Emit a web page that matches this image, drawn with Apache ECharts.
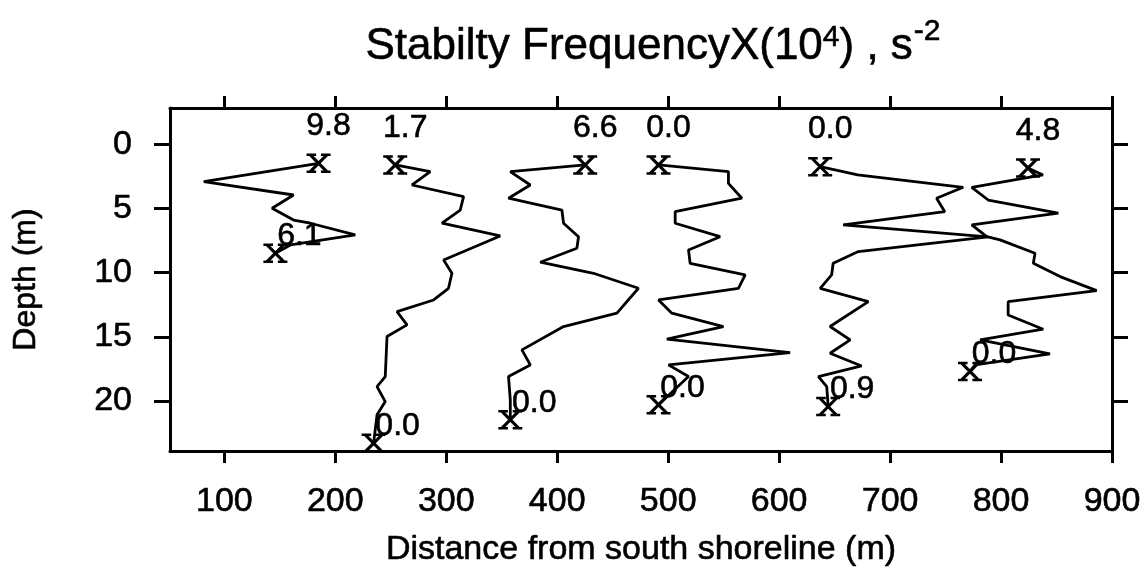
<!DOCTYPE html>
<html><head><meta charset="utf-8">
<script src="https://cdn.jsdelivr.net/npm/echarts@6/dist/echarts.min.js"></script>
<style>html,body{margin:0;padding:0;background:#fff}#c{width:1144px;height:581px}</style>
</head><body><div id="c"></div>
<script>
// ---- data ----
const xTicks = [100, 200, 300, 400, 500, 600, 700, 800, 900];
const yTicks = [0, 5, 10, 15, 20];

const p1X = [184.9, 81.4, 162.4, 143.0, 162.4, 177.5, 218.0, 159.5, 146.0];
const p1D = [1.48, 2.91, 3.95, 4.98, 5.90, 6.15, 7.06, 7.84, 8.49];

const p2X = [254.0, 285.6, 269.1, 315.6, 312.6, 296.1, 348.6, 297.6, 305.1, 302.0, 288.6, 255.6, 264.6, 246.6, 245.0, 237.6, 245.0, 237.6, 234.5];
const p2D = [1.61, 2.13, 3.17, 4.08, 5.12, 6.15, 7.14, 9.01, 10.05, 11.22, 12.13, 13.04, 14.07, 14.98, 18.10, 18.88, 20.05, 21.08, 23.29];

const p3X = [425.2, 357.7, 375.7, 356.1, 404.2, 405.7, 419.2, 417.7, 384.7, 432.7, 473.2, 453.8, 405.7, 368.2, 375.7, 356.1, 357.7, 357.7];
const p3D = [1.61, 2.13, 3.17, 4.20, 5.12, 6.15, 7.20, 8.10, 9.19, 10.05, 11.22, 13.16, 14.20, 16.02, 17.19, 18.10, 19.91, 21.47];

const p4X = [491.3, 554.3, 554.3, 566.4, 506.3, 506.3, 546.8, 518.3, 519.8, 569.4, 563.3, 491.3, 503.3, 549.8, 498.8, 609.9, 500.3, 518.3, 491.3];
const p4D = [1.61, 2.13, 3.04, 4.20, 5.25, 6.15, 7.20, 8.23, 9.27, 10.18, 11.22, 12.13, 13.16, 14.20, 15.19, 16.23, 17.19, 18.10, 20.30];

const p5X = [637.0, 670.8, 765.9, 741.9, 749.3, 657.7, 788.3, 671.4, 648.7, 647.3, 637.0, 680.4, 645.9, 664.0, 645.9, 674.3, 635.4, 642.9, 644.2];
const p5D = [1.74, 2.39, 3.35, 4.20, 5.25, 6.28, 7.22, 8.36, 9.27, 10.18, 11.22, 12.26, 14.20, 15.24, 16.28, 17.27, 18.10, 18.88, 20.44];

const p6X = [824.3, 837.8, 773.6, 788.4, 851.6, 773.6, 787.1, 799.1, 830.6, 829.1, 853.2, 886.2, 806.4, 806.4, 838.0, 781.1, 844.1, 776.6, 772.0];
const p6D = [1.85, 2.39, 3.35, 4.34, 5.37, 6.28, 7.20, 7.45, 8.49, 9.27, 10.31, 11.40, 12.26, 13.30, 14.41, 15.24, 16.33, 17.19, 17.71];

const topLabels = ['9.8', '1.7', '6.6', '0.0', '0.0', '4.8'];
const bottomLabels = ['6.1', '0.0', '0.0', '0.0', '0.9', '0.0'];

// ---- build ----
const profiles = [[p1X, p1D], [p2X, p2D], [p3X, p3D], [p4X, p4D], [p5X, p5D], [p6X, p6D]];
const FONT = 'Liberation Sans';
const xSym = 'path://M0,0H8M12,0H20M0,16H8M12,16H20M3,0L17,16M17,0L3,16';
const ink = { color: '#000', textBorderColor: '#000', textBorderWidth: 0.6 };

const series = [];
profiles.forEach(([xs, ds]) => {
  series.push({
    type: 'line', symbol: 'none', silent: true, animation: false,
    xAxisIndex: 0, yAxisIndex: 0,
    lineStyle: { color: '#000', width: 2.8 },
    data: xs.map((x, i) => [x, ds[i]])
  });
});
const markerData = [];
profiles.forEach(([xs, ds], i) => {
  markerData.push({
    value: [xs[0], ds[0]],
    label: { formatter: topLabels[i], offset: [10, -37] }
  });
  const n = xs.length - 1;
  markerData.push({
    value: [xs[n], ds[n]],
    label: { formatter: bottomLabels[i], offset: [24, -17] }
  });
});
series.push({
  type: 'scatter', animation: false, silent: true, z: 5,
  xAxisIndex: 0, yAxisIndex: 0,
  symbol: xSym, symbolSize: [24, 17],
  itemStyle: { color: 'rgba(0,0,0,0)', borderColor: '#000', borderWidth: 3, opacity: 1 },
  label: Object.assign({ show: true, position: 'inside', opacity: 1, fontFamily: FONT, fontSize: 32 }, ink),
  data: markerData
});

const common = Object.assign({ fontFamily: FONT }, ink);
const axisLineStyle = { color: '#000', width: 3 };
const richBase = Object.assign({ fontFamily: FONT, fontWeight: 'normal', lineHeight: 52 }, ink);

const option = {
  backgroundColor: '#fff',
  animation: false,
  title: {
    left: 648, top: 12, textAlign: 'center',
    text: '{a|Stabilty FrequencyX(10}{s|4}{a|) , s}{t|-2}',
    textStyle: {
      fontWeight: 'normal',
      rich: {
        a: Object.assign({ fontSize: 44, verticalAlign: 'bottom' }, richBase),
        s: Object.assign({ fontSize: 30, verticalAlign: 'top', padding: [6, 0, 0, 0] }, richBase),
        t: Object.assign({ fontSize: 30, verticalAlign: 'top', padding: [0, 0, 0, 1] }, richBase)
      }
    }
  },
  grid: { left: 170, top: 108, width: 942, height: 343, show: false },
  xAxis: [{
    type: 'value', position: 'bottom', min: 51, max: 900,
    name: 'Distance from south shoreline (m)', nameLocation: 'middle', nameGap: 82,
    nameTextStyle: Object.assign({ fontSize: 34 }, common),
    axisLine: { show: true, onZero: false, lineStyle: axisLineStyle },
    axisTick: { show: true, customValues: xTicks, length: 12, lineStyle: axisLineStyle },
    axisLabel: Object.assign({ customValues: xTicks, fontSize: 34, margin: 34 }, common),
    splitLine: { show: false }
  }, {
    type: 'value', position: 'top', min: 51, max: 900,
    axisLine: { show: true, onZero: false, lineStyle: axisLineStyle },
    axisTick: { show: true, customValues: xTicks, length: 12, lineStyle: axisLineStyle },
    axisLabel: { show: false },
    splitLine: { show: false }
  }],
  yAxis: [{
    type: 'value', position: 'left', inverse: true, min: -2.83, max: 23.9,
    name: 'Depth (m)', nameLocation: 'middle', nameGap: 128, nameRotate: 90,
    nameTextStyle: Object.assign({ fontSize: 32 }, common),
    axisLine: { show: true, onZero: false, lineStyle: axisLineStyle },
    axisTick: { show: true, customValues: yTicks, length: 16, lineStyle: axisLineStyle },
    axisLabel: Object.assign({ customValues: yTicks, fontSize: 34, margin: 38 }, common),
    splitLine: { show: false }
  }, {
    type: 'value', position: 'right', inverse: true, min: -2.83, max: 23.9,
    axisLine: { show: true, onZero: false, lineStyle: axisLineStyle },
    axisTick: { show: true, customValues: yTicks, length: 16, lineStyle: axisLineStyle },
    axisLabel: { show: false },
    splitLine: { show: false }
  }],
  series: series
};

const chart = echarts.init(document.getElementById('c'), null, { renderer: 'canvas' });
chart.setOption(option);
</script>
</body></html>
